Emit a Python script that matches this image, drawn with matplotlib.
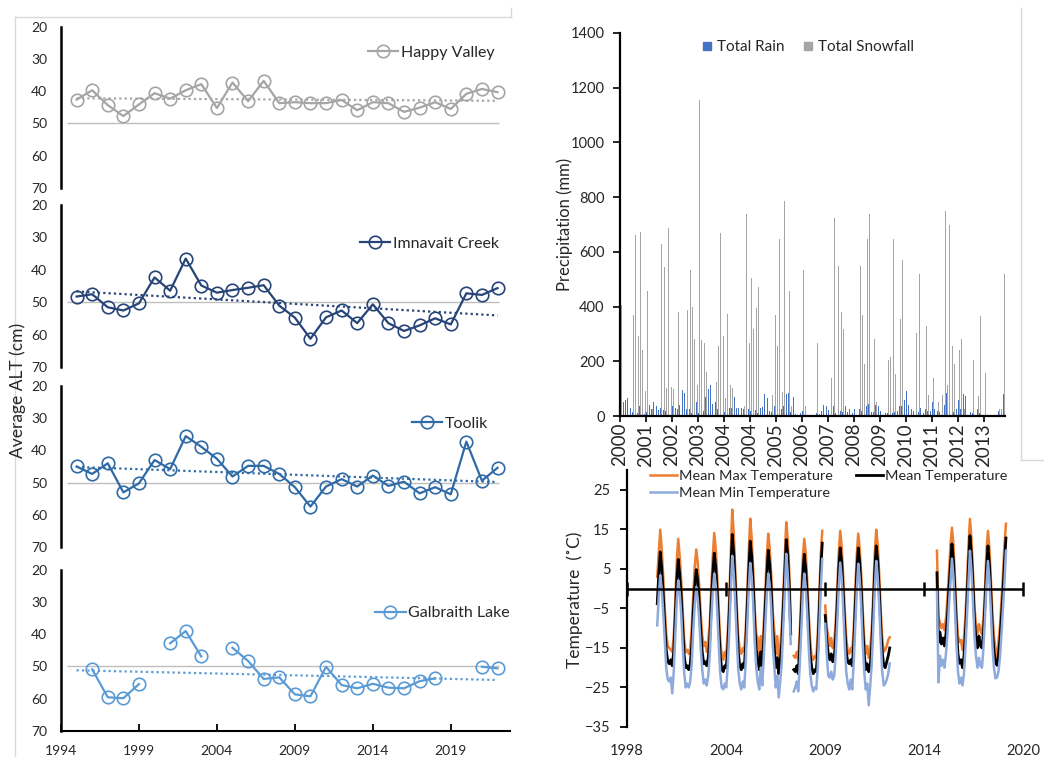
import numpy as np
import matplotlib
matplotlib.use("Agg")
import matplotlib.pyplot as plt
from matplotlib.lines import Line2D

plt.rcParams['font.family'] = ['Lato', 'DejaVu Sans']
plt.rcParams['text.color'] = '#262626'
plt.rcParams['xtick.color'] = '#000000'
plt.rcParams['ytick.color'] = '#000000'
plt.rcParams['xtick.labelcolor'] = '#262626'
plt.rcParams['ytick.labelcolor'] = '#262626'

nan = np.nan

# ---- active layer thickness (cm), one value per year ----
years = list(range(1995, 2023))
happy_valley = [42.6, 39.7, 44.3, 47.7, 44.1, 40.6, 42.3, 39.7, 37.8, 45.2,
                37.3, 43.1, 36.8, 43.7, 43.4, 43.7, 43.7, 42.7, 45.9, 43.4,
                43.7, 46.4, 45.1, 43.4, 45.5, 40.8, 39.3, 40.3]
imnavait = [48.2, 47.5, 51.5, 52.5, 50.3, 42.3, 46.4, 36.5, 44.8, 47.0,
            46.2, 45.5, 44.7, 51.0, 54.7, 61.2, 54.6, 52.5, 56.4, 50.6,
            56.4, 58.8, 57.1, 54.9, 56.8, 47.2, 47.7, 45.6]
toolik = [45.0, 47.3, 44.0, 53.0, 50.2, 43.0, 45.8, 35.6, 38.9, 42.6,
          48.1, 44.8, 44.8, 47.3, 51.4, 57.4, 51.2, 48.9, 51.2, 47.8,
          51.0, 49.7, 53.3, 51.4, 53.6, 37.3, 49.4, 45.4]
galbraith = [nan, 50.9, 59.6, 59.9, 55.5, nan, 42.8, 39.0, 46.9, nan,
             44.2, 48.3, 53.9, 53.4, 58.7, 59.3, 50.1, 55.8, 56.8, 55.4,
             56.6, 56.8, 54.6, 53.7, nan, nan, 50.1, 50.6]
site_names = ["Happy Valley", "Imnavait Creek", "Toolik", "Galbraith Lake"]
site_colors = ["#a5a5a5", "#264478", "#2e6aa6", "#5b9bd5"]

# ---- monthly precipitation (mm) ----
snowfall = [405, 0, 0, 0, 285, 370, 660, 293, 672, 243, 90,
            458, 697, 25, 0, 0, 0, 628, 546, 103, 688, 106,
            100, 1093, 380, 0, 40, 0, 388, 534, 400, 280, 113,
            1155, 278, 268, 160, 0, 0, 0, 125, 255, 668, 293,
            65, 372, 112, 103, 140, 0, 0, 0, 38, 738, 268,
            506, 317, 393, 470, 140, 0, 0, 0, 0, 75, 370,
            256, 648, 88, 786, 0, 458, 38, 153, 0, 0, 0,
            535, 37, 0, 0, 0, 0, 267, 96, 0, 0, 0,
            0, 138, 722, 0, 548, 380, 317, 520, 0, 0, 0,
            0, 0, 548, 368, 190, 648, 737, 0, 280, 50, 0,
            0, 0, 0, 205, 215, 648, 155, 228, 355, 570, 78,
            0, 0, 0, 0, 305, 520, 0, 190, 330, 75, 140,
            140, 0, 50, 0, 78, 750, 112, 698, 255, 190, 0,
            240, 280, 25, 0, 0, 0, 205, 0, 72, 365, 233,
            158, 0, 75, 0, 0, 0, 25, 25, 520]
rain = [30, 50, 58, 65, 30, 15, 30, 10, 35, 10, 8,
        15, 42, 25, 52, 35, 22, 30, 22, 20, 28, 5,
        35, 30, 25, 40, 95, 85, 25, 27, 12, 8, 52,
        12, 8, 20, 70, 100, 112, 45, 50, 25, 15, 5,
        15, 30, 30, 30, 70, 30, 28, 28, 25, 10, 25,
        20, 12, 22, 12, 28, 32, 80, 65, 20, 15, 35,
        5, 45, 25, 35, 80, 85, 15, 70, 8, 5, 10,
        20, 10, 0, 0, 0, 0, 10, 8, 18, 40, 35,
        22, 8, 35, 10, 30, 20, 15, 35, 15, 25, 10,
        25, 10, 25, 20, 10, 38, 45, 15, 15, 40, 35,
        18, 5, 10, 10, 20, 10, 15, 20, 35, 35, 60,
        90, 40, 25, 20, 38, 15, 28, 10, 25, 20, 20,
        50, 25, 20, 15, 38, 40, 85, 25, 5, 15, 25,
        58, 25, 80, 72, 35, 15, 10, 8, 25, 10, 5,
        5, 0, 0, 0, 0, 0, 20, 20, 82]
precip_labels = ["2000", "2001", "2002", "2003", "2004", "2004", "2005", "2006",
                 "2007", "2008", "2009", "2010", "2011", "2012", "2013"]
label_every = 11

# ---- monthly air temperature (C), two records ----
seg1_start = 1999.68
seg1_mean = [-3.8, 3.5,
             9.3, 5.0, -1.5, -9.0, -15.5, -18.5, -19.0, -18.0, -19.5, -16.0, -7.5, 2.0,
             7.4, 3.5, -2.0, -10.0, -17.0, -20.0, -19.5, -20.5, -19.0, -14.5, -6.0, 0.5,
             4.8, 2.0, -3.5, -10.5, -16.0, -19.0, -18.5, -19.5, -17.5, -13.0, -4.0, 3.5,
             9.0, 5.5, -1.0, -9.5, -17.0, -20.5, -21.0, -19.5, -20.0, -15.0, -6.5, 4.0,
             13.7, 9.0, 1.0, -8.0, -16.0, -19.5, -20.5, -19.0, -20.0, -14.0, -5.0, 4.5,
             12.0, 8.0, 0.5, -9.0, -15.5, -18.0, -20.5, -16.0, -19.5, -13.0, -5.0, 3.0,
             9.7, 6.0, -0.5, -10.0, -15.0, -20.0, -17.5, -21.5, -18.5, -14.0, -5.5, 3.5,
             12.4, 8.5, 0.5, -11.5, nan, -20.5, -21.0, -19.5, -21.5, -15.0, -6.0, 3.0,
             8.7, 5.0, -2.0, -10.5, -17.0, -20.0, -21.5, -20.5, -21.0, -15.5, -6.0, 4.5,
             11.5, nan, -6.8, -13.0, -16.5, -18.0, -16.5, -18.5, -17.5, -12.0, -4.0, 5.0,
             10.3, 6.5, -1.0, -9.5, -16.0, -18.5, -19.0, -18.0, -19.5, -14.0, -5.0, 4.0,
             10.3, 6.5, -0.5, -9.5, -16.5, -20.5, -19.0, -21.0, -19.5, -14.5, -5.5, 4.5,
             10.8, 7.0, -0.5, -9.5, -16.0, -19.5, -20.0, -18.5, -17.0, -15.0]
seg1_max = [3.0, 9.0,
            14.9, 10.0, 3.0, -5.0, -11.5, -14.5, -15.0, -15.5, -16.0, -12.0, -3.5, 7.0,
            12.6, 8.0, 2.0, -6.0, -13.0, -16.0, -15.5, -16.5, -15.0, -10.0, -1.5, 5.5,
            9.9, 6.5, 0.5, -6.5, -12.0, -14.5, -13.5, -16.0, -13.0, -9.0, 0.0, 8.0,
            14.1, 10.0, 3.0, -5.5, -13.0, -17.0, -18.0, -16.0, -17.0, -11.0, -2.5, 9.0,
            20.0, 14.0, 5.0, -4.0, -12.0, -15.5, -16.5, -15.0, -16.0, -10.0, -1.0, 9.5,
            17.7, 12.5, 4.5, -5.0, -11.5, -12.5, -17.0, -12.0, -16.0, -9.0, -1.0, 8.0,
            13.9, 10.0, 3.5, -6.0, -10.5, -16.5, -12.0, -18.0, -14.5, -10.0, -1.5, 8.0,
            16.8, 12.5, 4.5, -8.5, nan, -17.0, -17.5, -16.0, -18.0, -11.0, -2.0, 7.5,
            12.6, 9.0, 2.0, -6.5, -13.5, -17.5, -18.0, -17.0, -17.5, -11.5, -2.0, 8.5,
            14.6, nan, -4.3, -9.8, -12.0, -14.5, -12.5, -15.0, -13.5, -8.0, 0.0, 9.0,
            14.6, 10.5, 3.0, -5.5, -12.5, -16.0, -16.5, -15.0, -16.0, -10.0, -1.0, 8.5,
            13.9, 10.0, 3.5, -5.5, -13.0, -16.5, -14.5, -17.5, -15.0, -10.5, -1.5, 9.0,
            14.9, 11.0, 3.5, -5.5, -12.5, -16.0, -15.5, -14.5, -13.0, -12.3]
seg1_min = [-9.3, -2.0,
            3.4, 0.0, -6.0, -13.0, -20.0, -23.0, -23.5, -22.5, -26.5, -21.0, -12.0, -3.0,
            2.1, -1.0, -6.5, -14.5, -21.5, -25.0, -24.0, -25.0, -23.5, -19.0, -10.5, -4.0,
            0.4, -2.5, -8.0, -15.0, -20.5, -24.0, -23.0, -24.5, -22.0, -17.0, -8.0, -1.0,
            3.8, 1.0, -5.5, -14.0, -21.5, -25.0, -25.5, -24.0, -25.0, -19.5, -11.0, -0.5,
            8.3, 4.0, -3.5, -12.5, -20.5, -24.0, -25.5, -23.5, -25.0, -18.5, -9.5, 0.0,
            6.5, 3.0, -4.0, -13.5, -20.0, -23.5, -25.5, -20.0, -24.5, -17.5, -9.5, -1.5,
            3.8, 1.0, -5.0, -14.5, -19.5, -25.0, -22.0, -27.5, -23.5, -18.5, -10.0, -1.0,
            8.8, 4.0, -4.0, -14.0, nan, -26.0, -25.0, -23.5, -26.0, -19.5, -10.5, -1.5,
            3.8, 0.5, -6.5, -15.0, -21.5, -24.5, -26.0, -25.0, -25.5, -20.0, -10.5, 0.0,
            7.5, nan, -8.9, -16.5, -22.0, -22.5, -21.0, -23.0, -22.0, -16.5, -8.5, 0.5,
            6.6, 2.5, -5.0, -14.0, -21.0, -24.0, -25.5, -23.0, -25.5, -18.5, -9.5, -0.5,
            6.3, 2.5, -4.5, -14.0, -21.0, -25.5, -24.0, -29.5, -24.5, -19.0, -10.0, 0.0,
            7.0, 3.0, -4.5, -13.5, -21.0, -24.5, -24.0, -23.0, -21.5, -18.9]

seg2_start = 2015.22
seg2_mean = [4.0, -13.6, -11.0, -14.0, -12.5, -14.5, -11.5, -7.0, 0.0, 6.0,
             11.3, 7.0, -1.0, -10.0, -16.5, -18.9, -18.0, -20.0, -17.0, -11.0, -3.0, 6.0,
             13.4, 8.5, 1.0, -8.0, -12.5, -15.0, -12.0, -14.5, -15.0, -11.0, -4.0, 5.0,
             10.8, 6.0, -2.0, -10.5, -16.0, -18.5, -19.4, -17.0, -13.0, -7.0, -1.0, 6.5,
             12.8]
seg2_max = [9.6, -7.3, -8.5, -10.0, -9.0, -10.5, -7.5, -2.5, 4.0, 11.0,
            15.4, 11.0, 2.5, -6.0, -12.0, -13.5, -13.0, -15.5, -12.5, -7.0, 1.0, 11.0,
            17.6, 12.5, 4.5, -4.5, -9.0, -11.5, -9.0, -10.5, -11.5, -7.5, -0.5, 9.5,
            14.6, 10.0, 2.0, -6.5, -12.0, -15.5, -17.4, -13.5, -9.5, -3.0, 3.5, 11.0,
            16.4]
seg2_min = [-0.5, -23.7, -17.0, -19.5, -18.0, -20.0, -16.5, -11.5, -4.0, 1.5,
            7.6, 3.0, -5.0, -14.0, -21.0, -24.0, -22.5, -24.5, -21.5, -15.0, -7.0, 1.5,
            9.6, 4.5, -3.0, -12.0, -17.0, -20.0, -17.5, -19.5, -20.0, -15.0, -7.5, 1.0,
            7.0, 2.0, -6.0, -14.5, -20.0, -22.7, -22.5, -21.0, -17.5, -11.5, -5.0, 1.5,
            9.6]
temp_ticks = [1998, 2003.5, 2009, 2014.5, 2020]
temp_tick_labels = ["1998", "2004", "2009", "2014", "2020"]

W, H = 1044, 757


def box(left, top, right, bottom):
    # pixel rectangle -> figure fraction rectangle
    return [left / W, 1 - bottom / H, (right - left) / W, (bottom - top) / H]


def fig_line(x0, y0, x1, y1):
    fig.add_artist(Line2D([x0 / W, x1 / W], [1 - y0 / H, 1 - y1 / H],
                          transform=fig.transFigure, color='#d9d9d9', lw=1))


fig = plt.figure(figsize=(W / 100, H / 100), dpi=100)

# chart borders
fig_line(15, 17, 511, 17)
fig_line(15, 17, 15, 757)
fig_line(511, 8, 511, 17)
fig_line(1021, 8, 1021, 460)
fig_line(1021, 460, 1044, 460)

# ---------------- ALT panels ----------------
panel_tops = [26.7, 205, 385.7, 570]
panel_bottoms = [188, 367.3, 547.3, 730.7]
legend_pos = [(0.684, 0.837), (0.666, 0.76), (0.782, 0.763), (0.70, 0.732)]
all_sites = [happy_valley, imnavait, toolik, galbraith]

yrs = np.array(years, dtype=float)
for i in range(4):
    ax = fig.add_axes(box(61, panel_tops[i], 510, panel_bottoms[i]))
    vals = np.array(all_sites[i], dtype=float)
    color = site_colors[i]

    ax.hlines(50, 1994.4, 2022.1, color='#bfbfbf', lw=1, zorder=1)
    ok = ~np.isnan(vals)
    slope, icpt = np.polyfit(yrs[ok], vals[ok], 1)
    ends = np.array([yrs[0], yrs[-1]])
    ax.plot(ends, slope * ends + icpt, color=color, lw=1.6,
            ls=(0, (1, 1.4)), zorder=2)
    ax.plot(yrs, vals, '-o', color=color, lw=1.6, ms=9, mfc='none',
            mew=1.2, label=site_names[i], zorder=3)

    ax.set_xlim(1994, 2022.8)
    ax.set_ylim(70, 20)
    ax.set_yticks([20, 30, 40, 50, 60, 70])
    ax.set_yticks([20, 70], minor=True)
    ax.tick_params(axis='y', which='major', length=0, labelsize=10, pad=10)
    ax.tick_params(axis='y', which='minor', direction='in', length=5, width=1.5)
    for s in ['top', 'right']:
        ax.spines[s].set_visible(False)
    ax.spines['left'].set_linewidth(1.8)
    if i < 3:
        ax.spines['bottom'].set_visible(False)
        ax.set_xticks([])
    else:
        ax.spines['bottom'].set_linewidth(1.5)
        ax.set_xticks([1994, 1999, 2004, 2009, 2014, 2019])
        ax.tick_params(axis='x', direction='in', length=5, width=1.3,
                       labelsize=10, pad=10)
    ax.patch.set_alpha(0)
    ax.legend(loc='center left', bbox_to_anchor=legend_pos[i], frameon=False,
              fontsize=11.5, handlelength=1.9, handletextpad=0.15,
              borderpad=0, borderaxespad=0)

fig.text(18 / W, 1 - 390 / H, "Average ALT (cm)", rotation=90,
         ha='center', va='center', fontsize=12.5)

# ---------------- precipitation ----------------
axp = fig.add_axes(box(620, 33, 1005, 416))
cat = np.arange(len(snowfall))
bw = 0.36
axp.bar(cat - bw / 2, rain, width=bw, color='#4472c4', linewidth=0,
        label='Total Rain')
axp.bar(cat + bw / 2, snowfall, width=bw, color='#a5a5a5', linewidth=0,
        label='Total Snowfall')
axp.set_xlim(-0.5, len(snowfall) - 0.5)
axp.set_ylim(0, 1400)
axp.set_yticks(range(0, 1401, 200))
tick_pos = [-0.5 + label_every * k for k in range(len(precip_labels))]
axp.set_xticks(tick_pos, precip_labels, rotation=90)
axp.tick_params(axis='x', direction='out', length=4, width=1.2,
                labelsize=13.5, pad=1)
axp.tick_params(axis='y', direction='out', length=5, width=1.2,
                labelsize=10.5, pad=6)
for s in ['top', 'right']:
    axp.spines[s].set_visible(False)
axp.spines['left'].set_linewidth(1.6)
axp.spines['bottom'].set_linewidth(1.6)
leg_handles = [Line2D([], [], marker='s', ls='none', color='#4472c4', ms=6),
               Line2D([], [], marker='s', ls='none', color='#a5a5a5', ms=6)]
axp.legend(leg_handles, ['Total Rain', 'Total Snowfall'], ncol=2,
           loc='center left', bbox_to_anchor=(0.213, 0.963), frameon=False,
           fontsize=11, handlelength=0.6, handletextpad=0.35,
           columnspacing=1.3, borderpad=0, borderaxespad=0)
fig.text(565 / W, 1 - 224 / H, "Precipitation (mm)", rotation=90,
         ha='center', va='center', fontsize=12)

# ---------------- air temperature ----------------
axt = fig.add_axes(box(627, 470, 1023, 727))
t1 = seg1_start + np.arange(len(seg1_mean)) / 12
t2 = seg2_start + np.arange(len(seg2_mean)) / 12
l_max, = axt.plot(t1, seg1_max, color='#ed7d31', lw=1.8,
                  label='Mean Max Temperature')
axt.plot(t2, seg2_max, color='#ed7d31', lw=1.8)
l_mean, = axt.plot(t1, seg1_mean, color='black', lw=2.0,
                   label='Mean Temperature')
axt.plot(t2, seg2_mean, color='black', lw=2.0)
l_min, = axt.plot(t1, seg1_min, color='#8faadc', lw=1.8,
                  label='Mean Min Temperature')
axt.plot(t2, seg2_min, color='#8faadc', lw=1.8)

axt.axhline(0, color='black', lw=1.8, zorder=5)
axt.plot(temp_ticks, np.zeros(len(temp_ticks)), ls='none', marker='|',
         ms=10, mew=1.8, color='black', clip_on=False, zorder=6)
axt.set_xlim(temp_ticks[0], temp_ticks[-1])
axt.set_ylim(-35, 30)
axt.set_yticks(range(-35, 26, 10))
axt.set_xticks(temp_ticks, temp_tick_labels)
axt.tick_params(axis='x', length=0, labelsize=10.5, pad=12)
axt.tick_params(axis='y', direction='out', length=5, width=1.3,
                labelsize=10.5, pad=7)
for s in ['top', 'right', 'bottom']:
    axt.spines[s].set_visible(False)
axt.spines['left'].set_linewidth(1.6)
axt.legend([l_max, l_min, l_mean],
           ['Mean Max Temperature', 'Mean Min Temperature', 'Mean Temperature'],
           ncol=2, loc='upper left', bbox_to_anchor=(0.058, 1.0),
           frameon=False, fontsize=10.4, handlelength=1.9, handletextpad=0.1,
           labelspacing=0.35, columnspacing=1.6, borderpad=0, borderaxespad=0)
fig.text(575 / W, 1 - 600 / H, "Temperature  (\u02daC)", rotation=90,
         ha='center', va='center', fontsize=12.5,
         family=['Lato', 'DejaVu Sans'])

fig.savefig("out.png", dpi=100)
